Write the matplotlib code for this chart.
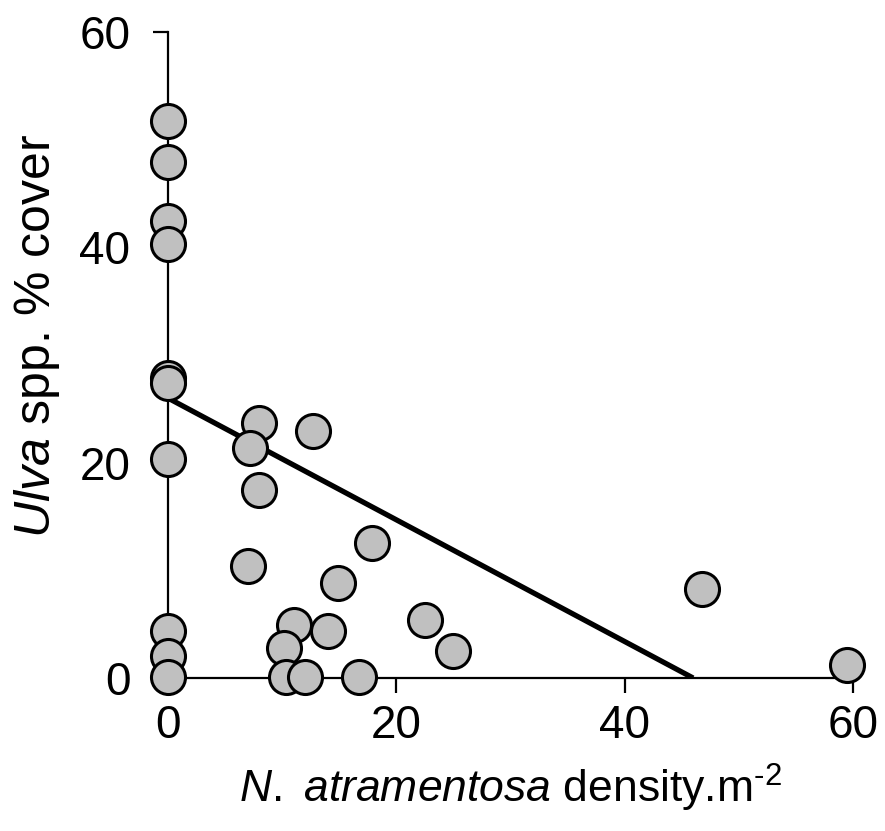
import matplotlib
matplotlib.use("Agg")
import matplotlib.pyplot as plt
import numpy as np

plt.rcParams['font.family'] = ['Liberation Sans', 'DejaVu Sans']
plt.rcParams['mathtext.fontset'] = 'custom'
plt.rcParams['mathtext.rm'] = 'Liberation Sans'
plt.rcParams['mathtext.it'] = 'Liberation Sans:italic'

# density (x) and Ulva % cover (y)
density = [0, 0, 0, 0, 0, 0, 0, 0, 0, 0,
           8.0, 7.2, 12.7, 8.0, 17.9, 7.0, 14.9, 11.0, 14.0, 10.2,
           22.5, 25.0, 10.3, 12.0, 16.7, 46.8, 59.5]
cover = [51.7, 47.9, 42.4, 40.3, 27.9, 27.4, 20.3, 4.4, 2.0, 0.1,
         23.7, 21.4, 22.9, 17.5, 12.5, 10.4, 8.8, 4.9, 4.4, 2.8,
         5.4, 2.5, 0.1, 0.1, 0.1, 8.3, 1.2]

# regression line
intercept = 26.0
slope = -26.0 / 46.0
fit_x = [0, -intercept / slope]
fit_y = [intercept + slope * v for v in fit_x]

fig = plt.figure(figsize=(8.85, 8.31), dpi=100)
ax = fig.add_axes([0.1898, 0.1841, 0.774, 0.7774])

ax.plot(fit_x, fit_y, color='black', lw=3.8, zorder=2, solid_capstyle='butt')
ax.scatter(density, cover, s=600, facecolor='#c0c0c0', edgecolor='black',
           linewidth=2.2, zorder=3, clip_on=False)

ax.set_xlim(0, 60)
ax.set_ylim(0, 60)
ax.set_xticks([0, 20, 40, 60])
ax.set_yticks([0, 20, 40, 60])

for s in ['top', 'right']:
    ax.spines[s].set_visible(False)
for s in ['left', 'bottom']:
    ax.spines[s].set_linewidth(1.6)

ax.tick_params(axis='both', direction='out', length=11, width=1.6, labelsize=33)
ax.tick_params(axis='y', pad=16)
ax.tick_params(axis='x', pad=8)

ax.set_xlabel(r'$\mathit{N.}$ $\mathit{atramentosa}$ density.m$^{\text{-2}}$', fontsize=32, labelpad=10)
ax.set_ylabel(r'$\mathit{Ulva}$ spp. % cover', fontsize=36)
ax.yaxis.set_label_coords(-0.155, 0.53)

fig.savefig('out.png', dpi=100)
